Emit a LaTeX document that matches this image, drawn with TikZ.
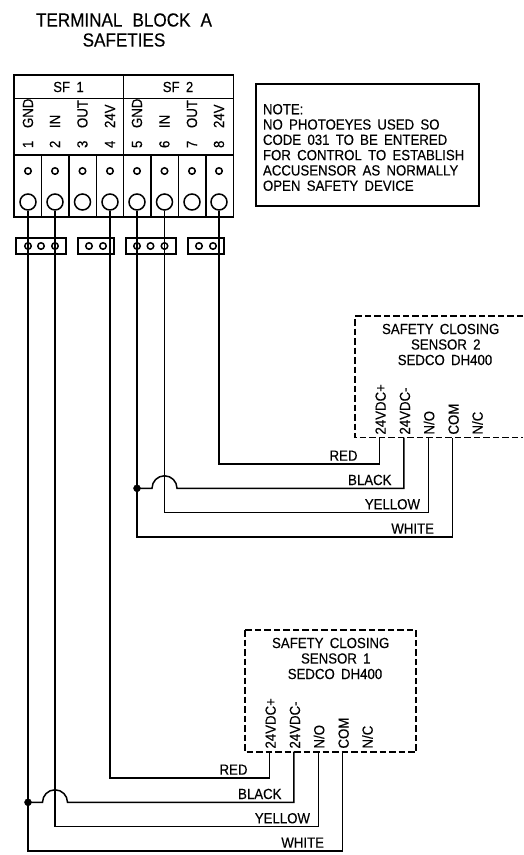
\documentclass[tikz,border=0pt]{standalone}
\usepackage{fontspec}
\setmainfont{Liberation Sans}[FakeStretch=0.9,WordSpace=1.7,FakeBold=0.3]
\tikzset{
  ln/.style={line width=1.5pt,black},
  wire/.style={ln,line join=miter},
  txt/.style={inner sep=0pt,outer sep=0pt,font=\fontsize{14.7}{15.3}\selectfont},
  small/.style={inner sep=0pt,outer sep=0pt,font=\fontsize{14.7}{15}\selectfont},
  vert/.style={small,rotate=90,anchor=base west},
  pinlab/.style={txt,rotate=90,anchor=base west},
  wirelab/.style={txt,anchor=base east},
  holes/.style={circle,draw,ln,inner sep=0pt,minimum size=6.5pt},
  bigc/.style={circle,draw,ln,inner sep=0pt,minimum size=16pt},
  jump/.style={draw,ln,inner sep=0pt,minimum height=16pt},
  dash box/.style={ln,dash pattern=on 6.5pt off 3pt},
  dotn/.style={circle,fill=black,draw=black,inner sep=0pt,minimum size=7pt},
}
% id, number, shift x, shift y, +term, gnd term, signal term
\newcommand\sensorunit[7]{%
  \begin{scope}[shift={(#3,#4)}]
    \node[txt] (title#1) at (440.7,329) {SAFETY CLOSING};
    \node[txt] (name#1) at (445.8,344.5) {SENSOR #2};
    \node[txt] (model#1) at (445,360) {SEDCO DH400};
    \coordinate (pa#1) at (379.3,437.7);
    \coordinate (pb#1) at (403.8,437.7);
    \coordinate (pc#1) at (428.3,437.7);
    \coordinate (pd#1) at (452.6,437.7);
    \node[pinlab] (la#1) at (385.7,434.5) {24VDC+};
    \node[pinlab] (lb#1) at (410,434.5) {24VDC-};
    \node[pinlab] (lc#1) at (434.3,434.5) {N/O};
    \node[pinlab] (ld#1) at (458.7,434.5) {COM};
    \node[pinlab] (le#1) at (482.7,434.5) {N/C};
    \coordinate (ca#1) at (379.3,464);
    \coordinate (cb#1) at (403.8,488.3);
    \coordinate (cc#1) at (428.3,512.7);
    \coordinate (cd#1) at (452.6,537);
    \node[wirelab] (red#1) at (357.5,460.7) {RED};
    \node[wirelab] (black#1) at (391.5,485) {BLACK};
    \node[wirelab] (yellow#1) at (420,509.3) {YELLOW};
    \node[wirelab] (white#1) at (434,533.7) {WHITE};
  \end{scope}
  \draw[wire] (#5.south) |- (ca#1) -- (pa#1);
  \draw[wire] (#7.south) |- (cc#1) -- (pc#1);
  \draw[wire] (#6.south) |- (cd#1) -- (pd#1);
  \path (#6.center |- cb#1) node[dotn] (dot#1) {};
  \path (#7.center |- cb#1) ++(-12.5,0) coordinate (hopa#1);
  \draw[wire] (dot#1.center) -- (hopa#1) arc[start angle=180,end angle=0,radius=12.5pt] -- (cb#1) -- (pb#1);
}
\begin{document}
\begin{tikzpicture}[x=1pt,y=-1pt]
\useasboundingbox (0,0) rectangle (523,855);

% title
\node[inner sep=0pt,align=center,font=\fontsize{19}{20}\selectfont] (title) at (124,30) {TERMINAL\hspace{2pt} BLOCK\hspace{2pt} A\\SAFETIES};

% terminal block
\node[draw,ln,inner sep=0pt,minimum width=219.5pt,minimum height=142pt] (block) at (123.75,146) {};
\draw[ln] (block.north west |- 0,98.5) -- (block.north east |- 0,98.5);
\draw[ln] (block.north west |- 0,155) -- (block.north east |- 0,155);
\draw[ln] (123.5,75) -- (123.5,155);
\foreach \x in {41.5,69,96.3,123.5,151,178.5,206}
  \draw[ln] (\x,155) -- (\x,217);
\node[small] (sf1) at (68.5,87) {SF 1};
\node[small] (sf2) at (178,87) {SF 2};

\foreach \n/\x/\nm in {1/28/GND,2/55/IN,3/82.5/OUT,4/110/24V,5/137/GND,6/164.5/IN,7/192/OUT,8/219/24V}{
  \node[holes] (h\n) at (\x,171) {};
  \node[bigc] (t\n) at (\x,202) {};
  \node[vert] (num\n) at (\x+5,148) {\n};
  \node[vert] (lab\n) at (\x+5,128) {\nm};
}

% jumpers
\node[jump,minimum width=50pt] (j1) at (41,246) {};
\node[jump,minimum width=36pt] (j2) at (96,246) {};
\node[jump,minimum width=50pt] (j3) at (151,246) {};
\node[jump,minimum width=36pt] (j4) at (206,246) {};
\foreach \n/\x in {a/28,b/41,c/55,d/89,e/103,f/137,g/150.5,h/164.5,i/199,j/213}
  \node[holes] (jc\n) at (\x,246) {};

% note
\node[draw,ln,inner sep=0pt,minimum width=223pt,minimum height=122pt] (notebox) at (367.5,145) {};
\node[txt,anchor=north west,align=left] (note) at (263,104) {NOTE:\\NO PHOTOEYES USED SO\\CODE 031 TO BE ENTERED\\FOR CONTROL TO ESTABLISH\\ACCUSENSOR AS NORMALLY\\OPEN SAFETY DEVICE};

% sensors
\draw[dash box] (523,316) -- (355,316) -- (355,437.7) -- (523,437.7);
\draw[dash box] (245,630) rectangle (416,752);
\sensorunit{B}{2}{0}{0}{t8}{t5}{t6}
\sensorunit{A}{1}{-110}{314}{t4}{t1}{t2}
\end{tikzpicture}
\end{document}
